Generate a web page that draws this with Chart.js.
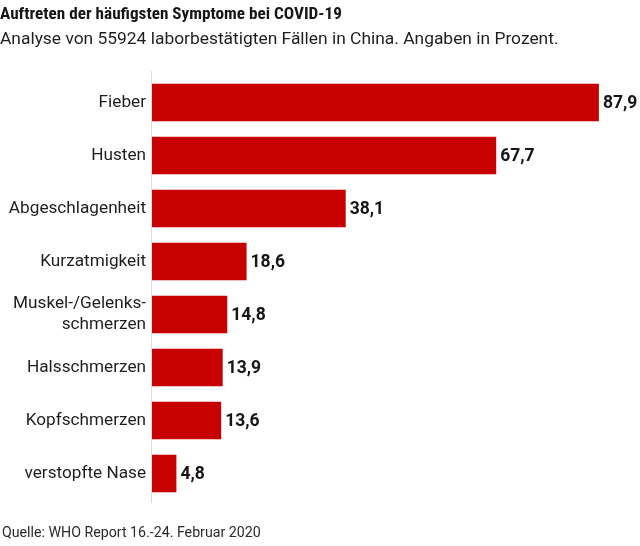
<!DOCTYPE html>
<html>
<head>
<meta charset="utf-8">
<script src="https://cdn.jsdelivr.net/npm/chart.js@4"></script>
<style>
  html, body { margin: 0; padding: 0; background: #fff; }
  #wrap { width: 640px; height: 546px; }
</style>
</head>
<body>
<div id="wrap"><canvas id="symptome"></canvas></div>
<script>
const symptome = ["Fieber", "Husten", "Abgeschlagenheit", "Kurzatmigkeit",
  ["Muskel-/Gelenks-", "schmerzen"], "Halsschmerzen", "Kopfschmerzen", "verstopfte Nase"];
const prozent = [87.9, 67.7, 38.1, 18.6, 14.8, 13.9, 13.6, 4.8];
const titel = "Auftreten der häufigsten Symptome bei COVID-19";
const untertitel = "Analyse von 55924 laborbestätigten Fällen in China. Angaben in Prozent.";
const quelle = "Quelle: WHO Report 16.-24. Februar 2020";

const schrift = "Roboto, 'Liberation Sans', sans-serif";
const schmal = "'Liberation Sans Narrow', 'Roboto Condensed', Roboto, sans-serif";

// Werte rechts neben die Balken, Achsenlinie und Quelle
const beschriftung = {
  id: 'beschriftung',
  beforeDatasetsDraw(chart) {
    const ctx = chart.ctx, a = chart.chartArea;
    ctx.save();
    ctx.strokeStyle = "#dddddd";
    ctx.lineWidth = 1;
    ctx.beginPath();
    ctx.moveTo(a.left - 0.5, a.top - 5);
    ctx.lineTo(a.left - 0.5, a.bottom + 3);
    ctx.stroke();
    ctx.restore();
  },
  afterDatasetsDraw(chart) {
    const ctx = chart.ctx;
    const meta = chart.getDatasetMeta(0);
    ctx.save();
    ctx.font = "bold 17.5px " + schrift;
    ctx.fillStyle = "#161616";
    ctx.textBaseline = "middle";
    ctx.textAlign = "left";
    meta.data.forEach((bar, i) => {
      const txt = prozent[i].toLocaleString('de-DE', { minimumFractionDigits: 1 });
      ctx.fillText(txt, bar.x + 4, bar.y + 1);
    });
    ctx.font = "14.2px " + schrift;
    ctx.fillStyle = "#2a2a2a";
    ctx.fillText(quelle, 2, 533);
    ctx.restore();
  }
};

new Chart(document.getElementById("symptome"), {
  type: 'bar',
  data: {
    labels: symptome,
    datasets: [{
      data: prozent,
      backgroundColor: "#c70000",
      barPercentage: 0.71,
      categoryPercentage: 1
    }]
  },
  options: {
    indexAxis: 'y',
    responsive: true,
    maintainAspectRatio: false,
    animation: false,
    layout: { padding: { left: 0, right: 5, top: 0, bottom: 46 } },
    plugins: {
      legend: { display: false },
      tooltip: { enabled: false },
      title: {
        display: true,
        text: titel,
        align: 'start',
        color: "#161616",
        font: { family: schmal, size: 17.2, weight: 'bold', lineHeight: 1.2 },
        padding: { top: 4, bottom: 3 }
      },
      subtitle: {
        display: true,
        text: untertitel,
        align: 'start',
        color: "#1e1e1e",
        font: { family: schrift, size: 17.4, lineHeight: 1.2 },
        padding: { top: 2, bottom: 25.5 }
      }
    },
    scales: {
      x: { display: false, min: 0, max: 95 },
      y: {
        afterFit(scale) { scale.width = 152; },
        grid: { display: false, drawTicks: false },
        border: { display: false },
        ticks: {
          color: "#1e1e1e",
          padding: 6,
          font: { family: schrift, size: 17.2, lineHeight: 1.2 }
        }
      }
    }
  },
  plugins: [beschriftung]
});
</script>
</body>
</html>
